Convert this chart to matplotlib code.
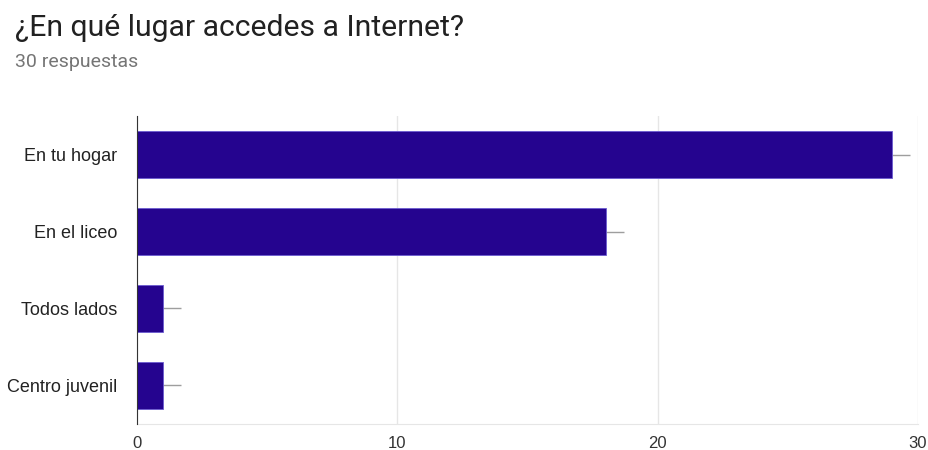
import matplotlib.pyplot as plt

# answers to the survey question (30 responses)
categories = ["En tu hogar", "En el liceo", "Todos lados", "Centro juvenil"]
counts = [29, 18, 1, 1]
spread = [0.7, 0.7, 0.7, 0.7]
xticks = [0, 10, 20, 30]

fig = plt.figure(figsize=(9.29, 4.5), dpi=100)
ax = fig.add_axes([0.1475, 0.058, 0.8405, 0.684])

ypos = list(range(len(categories)))
ax.barh(ypos, counts, height=0.62, color="#25048f", edgecolor="#6b5bd0", linewidth=0.6, zorder=3)
ax.errorbar(counts, ypos, xerr=[[0] * len(spread), spread], fmt="none",
            ecolor="#9e9e9e", elinewidth=1, capsize=0, zorder=2)

ax.set_yticks(ypos)
ax.set_yticklabels(categories, fontsize=13, color="#222222", family="Liberation Sans")
ax.set_ylim(len(categories) - 0.5, -0.5)
ax.set_xlim(0, 30)
ax.set_xticks(xticks)
ax.set_xticklabels([str(t) for t in xticks], fontsize=12, color="#333333", family="Liberation Sans")
ax.tick_params(length=0)
ax.tick_params(axis="y", pad=14)
ax.tick_params(axis="x", pad=8.5)
ax.grid(axis="x", color="#e6e6e6", linewidth=1, zorder=0)

for side in ["top", "right"]:
    ax.spines[side].set_visible(False)
ax.spines["bottom"].set_color("#e6e6e6")
ax.spines["left"].set_color("#333333")
ax.spines["left"].set_zorder(4)

fig.text(0.016, 0.937, "¿En qué lugar accedes a Internet?", fontsize=21.7, family="Roboto",
         color="#212121", va="center")
fig.text(0.016, 0.862, "30 respuestas", fontsize=14, family="Roboto", color="#757575", va="center")

fig.savefig("out.png", dpi=100)
